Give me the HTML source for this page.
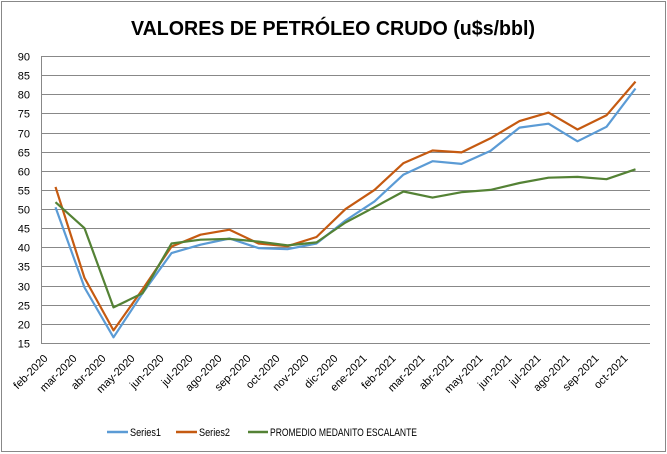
<!DOCTYPE html>
<html><head><meta charset="utf-8"><style>
html,body{margin:0;padding:0;background:#fff}
svg{display:block;font-family:"Liberation Sans",Arial,sans-serif}
</style></head><body>
<svg width="667" height="454" viewBox="0 0 667 454" xmlns="http://www.w3.org/2000/svg">
<rect x="1.5" y="1.5" width="664" height="450" fill="#fff" stroke="#888" stroke-width="1"/>
<text x="131" y="35" font-size="20" font-weight="bold" fill="#000" textLength="404" lengthAdjust="spacingAndGlyphs">VALORES DE PETRÓLEO CRUDO (u$s/bbl)</text>
<g id="grid" stroke="#888" stroke-width="1"></g>
<g id="ylab" font-size="11" fill="#000" text-anchor="end"></g>
<g id="xlab" font-size="11" fill="#000" text-anchor="end"></g>
<g id="lines" fill="none" stroke-width="2.2" stroke-linejoin="round"></g>
<g font-size="11" fill="#000">
<line x1="107" y1="432" x2="128" y2="432" stroke="#5b9bd5" stroke-width="2.5"/>
<text x="130" y="436" textLength="31" lengthAdjust="spacingAndGlyphs">Series1</text>
<line x1="176" y1="432" x2="197" y2="432" stroke="#c55a11" stroke-width="2.5"/>
<text x="199" y="436" textLength="31" lengthAdjust="spacingAndGlyphs">Series2</text>
<line x1="248" y1="432" x2="268" y2="432" stroke="#548235" stroke-width="2.5"/>
<text x="270" y="436" textLength="147" lengthAdjust="spacingAndGlyphs">PROMEDIO MEDANITO  ESCALANTE</text>
</g>
</svg>
<script>
const ns="http://www.w3.org/2000/svg";
const L=41,R=650,T=56,B=343;
const Y=v=>B-(v-15)*(B-T)/75;
const X=i=>L+(R-L)/21*(i+0.5);
function el(p,t,a,txt){const e=document.createElementNS(ns,t);for(const k in a)e.setAttribute(k,a[k]);if(txt)e.textContent=txt;document.getElementById(p).appendChild(e);}
for(let v=15;v<=90;v+=5){const y=Math.round(Y(v))+0.5;el("grid","line",{x1:L,x2:R,y1:y,y2:y});el("ylab","text",{x:30,y:y+4},String(v));}
el("grid","line",{x1:L+0.5,x2:L+0.5,y1:T,y2:B});
const labs=["feb-2020","mar-2020","abr-2020","may-2020","jun-2020","jul-2020","ago-2020","sep-2020","oct-2020","nov-2020","dic-2020","ene-2021","feb-2021","mar-2021","abr-2021","may-2021","jun-2021","jul-2021","ago-2021","sep-2021","oct-2021"];
labs.forEach((s,i)=>{const x=X(i)-7,y=359;el("xlab","text",{x:x,y:y,transform:`rotate(-45 ${x} ${y})`},s);});
const s1=[50.5,29.5,16.5,28,38.5,40.7,42.3,39.8,39.5,41,47,52,59,62.5,61.8,65.2,71.3,72.3,67.7,71.5,81.5];
const s2=[55.8,32,18.3,29,40.2,43.3,44.6,41,40.3,42.7,50,55,62,65.3,64.8,68.5,73,75.2,70.8,74.5,83.3];
const s3=[51.8,45,24.3,28,41,42,42.2,41.5,40.5,41.3,46.5,50.5,54.6,53,54.4,55,56.8,58.2,58.4,57.8,60.4];
[[s1,"#5b9bd5"],[s2,"#c55a11"],[s3,"#548235"]].forEach(([d,c])=>{el("lines","polyline",{stroke:c,points:d.map((v,i)=>X(i).toFixed(1)+","+Y(v).toFixed(1)).join(" ")});});
</script>
</body></html>
